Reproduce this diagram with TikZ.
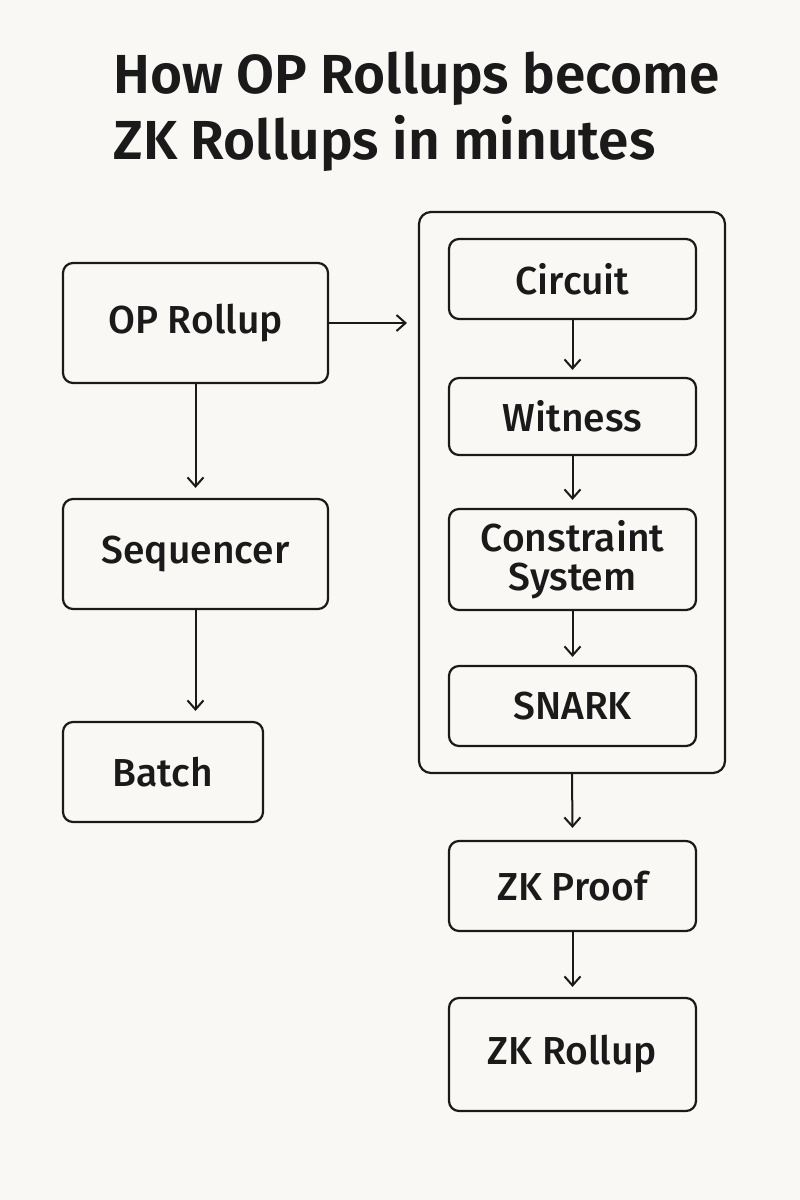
\documentclass[tikz,border=0pt]{standalone}
\usepackage{fontspec}
\setmainfont{Fira Sans}[UprightFont={* Medium},BoldFont={* SemiBold}]
\usetikzlibrary{arrows.meta}
\definecolor{bg}{HTML}{FAF8F4}
\definecolor{ink}{HTML}{1A1A1A}
\begin{document}
\begin{tikzpicture}[x=1pt,y=-1pt,
  box/.style={draw=ink,line width=2.2pt,rounded corners=10pt,font=\fontsize{39}{39}\selectfont,text=ink,align=center},
  arr/.style={draw=ink,line width=2pt,-{Straight Barb[length=9pt,width=16pt,line width=2pt]}}]
\fill[bg] (0,0) rectangle (800,1200);
\useasboundingbox (0,0) rectangle (800,1200);
\node[anchor=west,font=\bfseries\fontsize{55}{66}\selectfont,text=ink,align=left] (title) at (110,112) {How OP Rollups become\\ZK Rollups in minutes};
\node[box,minimum width=265pt,minimum height=120pt] (op) at (195.5,323) {OP Rollup};
\node[box,minimum width=265pt,minimum height=110pt] (seq) at (195.5,554) {Sequencer};
\node[box,minimum width=200pt,minimum height=100pt] (batch) at (163,772) {Batch};
\node[draw=ink,line width=2.2pt,rounded corners=12pt,minimum width=306pt,minimum height=561pt] (cont) at (572,492.5) {};
\node[box,minimum width=247pt,minimum height=80pt] (circ) at (572.5,279) {Circuit};
\node[box,minimum width=247pt,minimum height=77pt] (wit) at (572.5,416.5) {Witness};
\node[box,minimum width=247pt,minimum height=101pt] (cs) at (572.5,559.5) {Constraint\\System};
\node[box,minimum width=247pt,minimum height=80pt] (snark) at (572.5,706) {SNARK};
\node[box,minimum width=247pt,minimum height=90pt] (proof) at (572.5,886) {ZK Proof};
\node[box,minimum width=247pt,minimum height=113pt] (zkr) at (572.5,1054.5) {ZK Rollup};
\coordinate (opend) at (407,323);
\draw[arr] (op.east) -- (opend);
\draw[arr] (op.south) -- ([yshift=10pt]seq.north);
\draw[arr] (seq.south) -- ([yshift=10pt]batch.north -| seq.south);
\draw[arr] (circ.south) -- ([yshift=7pt]wit.north);
\draw[arr] (wit.south) -- ([yshift=8pt]cs.north);
\draw[arr] (cs.south) -- ([yshift=8pt]snark.north);
\draw[arr] (cont.south) -- ([yshift=12pt]proof.north);
\draw[arr] (proof.south) -- ([yshift=10pt]zkr.north);
\end{tikzpicture}
\end{document}
